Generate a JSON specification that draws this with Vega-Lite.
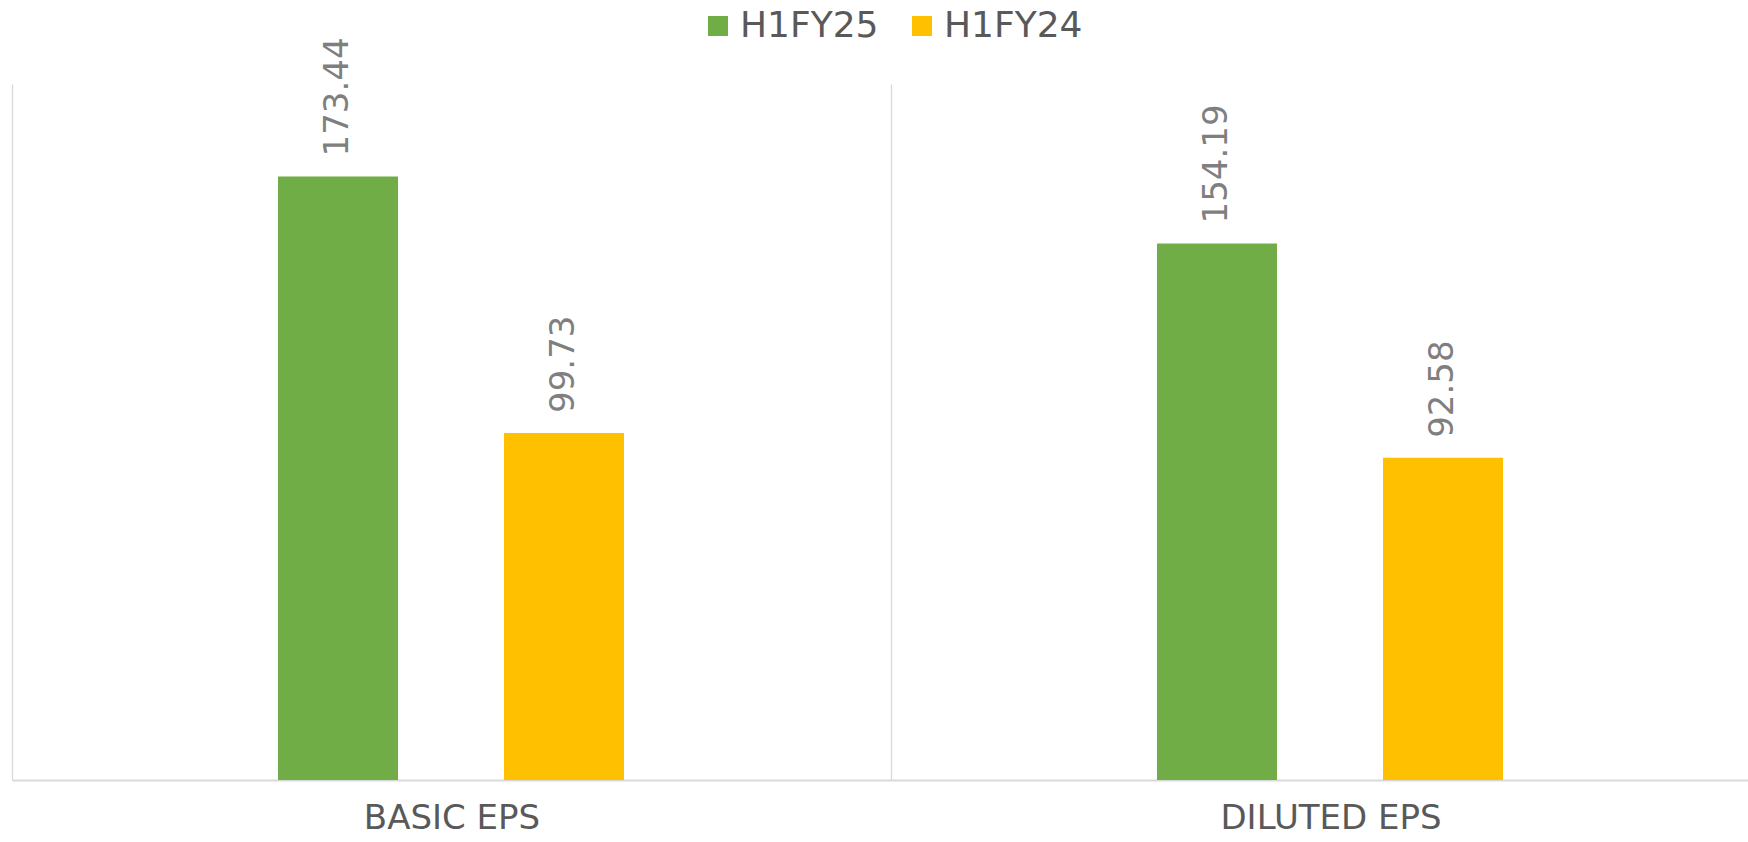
{
  "$schema": "https://vega.github.io/schema/vega-lite/v6.json",
  "width": 1736,
  "height": 696,
  "autosize": {"type": "none"},
  "padding": {"left": 12, "top": 84, "right": 0, "bottom": 62},
  "background": "white",
  "config": {"view": {"stroke": null}, "font": "DejaVu Sans"},
  "data": {
    "values": [
      {"metric": "BASIC EPS", "period": "H1FY25", "value": 173.44},
      {"metric": "BASIC EPS", "period": "H1FY24", "value": 99.73},
      {"metric": "DILUTED EPS", "period": "H1FY25", "value": 154.19},
      {"metric": "DILUTED EPS", "period": "H1FY24", "value": 92.58}
    ]
  },
  "encoding": {
    "x": {
      "field": "metric",
      "type": "nominal",
      "sort": ["BASIC EPS", "DILUTED EPS"],
      "scale": {"range": [0, 1758], "paddingInner": 0, "paddingOuter": 0},
      "axis": {
        "title": null,
        "labelAngle": 0,
        "labelLimit": 0,
        "tickBand": "extent",
        "grid": true,
        "gridColor": "#d9d9d9",
        "gridWidth": 1.3,
        "ticks": false,
        "domainColor": "#d9d9d9",
        "domainWidth": 2,
        "labelFontSize": 34,
        "labelColor": "#595959",
        "labelPadding": 21
      }
    },
    "xOffset": {
      "field": "period",
      "type": "nominal",
      "sort": ["H1FY25", "H1FY24"],
      "scale": {"range": [266, 612], "paddingInner": 0.469, "paddingOuter": 0}
    },
    "y": {
      "field": "value",
      "type": "quantitative",
      "scale": {"domain": [0, 200]},
      "axis": null
    }
  },
  "layer": [
    {
      "mark": {"type": "bar"},
      "encoding": {
        "color": {
          "field": "period",
          "type": "nominal",
          "sort": ["H1FY25", "H1FY24"],
          "scale": {"domain": ["H1FY25", "H1FY24"], "range": ["#70AD47", "#FFC000"]},
          "legend": {
            "orient": "none",
            "legendX": 688,
            "legendY": -76,
            "direction": "horizontal",
            "title": null,
            "symbolType": "square",
            "symbolSize": 400,
            "symbolStrokeWidth": 0,
            "labelFontSize": 36,
            "labelColor": "#595959",
            "labelOffset": 4,
            "columnPadding": 25,
            "padding": 0
          }
        }
      }
    },
    {
      "mark": {
        "type": "text",
        "angle": 270,
        "align": "left",
        "baseline": "middle",
        "dx": 20,
        "fontSize": 34,
        "fill": "#7f7f7f"
      },
      "encoding": {
        "text": {"field": "value", "type": "quantitative", "format": ".2f"}
      }
    }
  ]
}
